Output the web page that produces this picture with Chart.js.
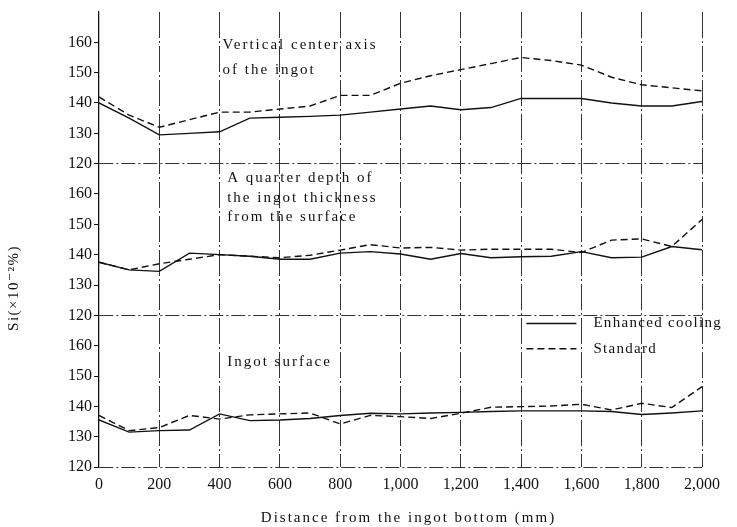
<!DOCTYPE html>
<html>
<head>
<meta charset="utf-8">
<script src="https://cdn.jsdelivr.net/npm/chart.js@4/dist/chart.umd.min.js"></script>
<style>
  html, body { margin: 0; padding: 0; background: #fff; }
</style>
</head>
<body>
<canvas id="chart" width="737" height="527"></canvas>
<script>
// distance from the ingot bottom, mm
const distances = [0, 100, 200, 300, 400, 500, 600, 700, 800, 900, 1000,
  1100, 1200, 1300, 1400, 1500, 1600, 1700, 1800, 1900, 2000];
const yTicks = [120, 130, 140, 150, 160];

// Si (x10^-2 %) — vertical center axis of the ingot
const centerEnhanced = [140, 135, 129.5, 130, 130.5, 135, 135.3, 135.6, 136, 137, 138,
  139, 137.8, 138.5, 141.5, 141.5, 141.5, 140, 139, 139, 140.5];
const centerStandard = [142, 136, 132, 134.5, 137, 137, 138, 139, 142.5, 142.5, 146.5,
  149, 151, 153, 155, 154, 152.5, 148.5, 146, 145, 144];

// a quarter depth of the ingot thickness
const quarterEnhanced = [137.5, 135, 134.5, 140.5, 140, 139.5, 138.5, 138.5, 140.5, 141, 140.2,
  138.5, 140.4, 139, 139.3, 139.5, 141, 139, 139.2, 142.7, 141.6];
const quarterStandard = [137.5, 135, 137, 138.5, 140, 139.5, 139, 139.8, 141.5, 143.3, 142.2,
  142.4, 141.5, 141.8, 141.8, 141.8, 140.7, 144.8, 145.2, 142.7, 151.6];

// ingot surface
const surfaceEnhanced = [135.5, 131.5, 132, 132.2, 137.5, 135.3, 135.5, 136, 137, 137.7, 137.5,
  137.8, 138, 138.3, 138.5, 138.5, 138.5, 138.3, 137.3, 137.8, 138.5];
const surfaceStandard = [137, 132, 133, 137, 135.8, 137.2, 137.5, 137.8, 134.2, 137, 136.6,
  136, 137.7, 139.7, 139.9, 140.1, 140.7, 138.8, 141, 139.6, 146.5];

const panelLabels = [
  { axis: 'yTop', x: 410, y: [159, 151], lines: ['Vertical center axis', 'of the ingot'] },
  { axis: 'yMid', x: 425, y: [165.4, 158.8, 152.5], lines: ['A quarter depth of', 'the ingot thickness', 'from the surface'] },
  { axis: 'yBot', x: 425, y: [154.7], lines: ['Ingot surface'] }
];

const xTitle = 'Distance from the ingot bottom (mm)';
const yTitle = 'Si(×10⁻²%)';

const ink = '#111';
const serif = '"Liberation Serif", "DejaVu Serif", serif';

const toPoints = vals => vals.map((v, i) => ({ x: distances[i], y: v }));

const series = (label, vals, axis, dashed) => ({
  label,
  data: toPoints(vals),
  yAxisID: axis,
  borderColor: ink,
  borderWidth: 1.4,
  borderDash: dashed ? [7, 4] : [],
  pointRadius: 0,
  tension: 0,
  fill: false
});

const panelAxis = () => ({
  type: 'linear',
  position: 'left',
  stack: 'panels',
  stackWeight: 1,
  min: 120,
  max: 170,
  afterBuildTicks: s => { s.ticks = yTicks.map(v => ({ value: v })); },
  afterFit: s => { s.width = 65; },
  ticks: { color: ink, font: { family: serif, size: 16 }, padding: 2, autoSkip: false },
  grid: {
    color: c => (c.tick && c.tick.value === 120 ? '#333' : 'transparent'),
    tickColor: ink,
    tickLength: 5,
    lineWidth: 1
  },
  border: { display: true, color: ink, width: 1.3, dash: [14, 3, 2, 3] }
});

// legend rows drawn inside the bottom panel, next to the 1,600 mm line
const legendAt = { axis: 'yBot', x: 1600, y: [167.3, 159] };

const overlay = {
  id: 'overlay',
  afterDraw(chart) {
    const { ctx, scales, chartArea } = chart;
    const x = scales.x;
    ctx.save();
    ctx.fillStyle = ink;
    ctx.font = '15px ' + serif;
    ctx.letterSpacing = '2px';
    ctx.textBaseline = 'middle';
    ctx.textAlign = 'left';

    panelLabels.forEach(p => {
      p.lines.forEach((t, i) => {
        ctx.fillText(t, x.getPixelForValue(p.x), scales[p.axis].getPixelForValue(p.y[i]));
      });
    });

    // legend
    const lx = x.getPixelForValue(legendAt.x);
    ctx.letterSpacing = '1.3px';
    chart.data.datasets.slice(0, 2).forEach((ds, i) => {
      const ly = scales[legendAt.axis].getPixelForValue(legendAt.y[i]);
      ctx.beginPath();
      ctx.setLineDash(ds.borderDash);
      ctx.lineWidth = 1.4;
      ctx.strokeStyle = ink;
      ctx.moveTo(lx - 55, ly);
      ctx.lineTo(lx - 5, ly);
      ctx.stroke();
      ctx.fillText(ds.label, lx + 12, ly);
    });
    ctx.setLineDash([]);

    // x title
    ctx.textAlign = 'center';
    ctx.letterSpacing = '2px';
    ctx.fillText(xTitle, (chartArea.left + chartArea.right) / 2 + 8, chart.height - 9);

    // y title
    ctx.letterSpacing = '1.5px';
    ctx.font = '15px ' + serif;
    ctx.translate(14, 288);
    ctx.rotate(-Math.PI / 2);
    ctx.fillText(yTitle, 0, 0);
    ctx.restore();
  }
};

new Chart(document.getElementById('chart'), {
  type: 'line',
  data: {
    datasets: [
      series('Enhanced cooling', centerEnhanced, 'yTop', false),
      series('Standard', centerStandard, 'yTop', true),
      series('Enhanced cooling', quarterEnhanced, 'yMid', false),
      series('Standard', quarterStandard, 'yMid', true),
      series('Enhanced cooling', surfaceEnhanced, 'yBot', false),
      series('Standard', surfaceStandard, 'yBot', true)
    ]
  },
  options: {
    responsive: false,
    animation: false,
    layout: { padding: { left: 34, right: 35, top: 12, bottom: 0 } },
    plugins: { legend: { display: false }, tooltip: { enabled: false } },
    scales: {
      x: {
        type: 'linear',
        min: 0,
        max: 2000,
        afterFit: s => { s.height = 60; },
        ticks: {
          stepSize: 200,
          color: ink,
          font: { family: serif, size: 16 },
          padding: 8,
          callback: v => v.toLocaleString('en-US')
        },
        grid: {
          color: c => (c.tick && c.tick.value === 0 ? 'transparent' : '#333'),
          drawTicks: false,
          lineWidth: 1
        },
        border: { display: false, dash: [26, 3, 2, 3] }
      },
      // stacked axes are laid out bottom-up in the order they are listed
      yBot: panelAxis(),
      yMid: panelAxis(),
      yTop: panelAxis()
    }
  },
  plugins: [overlay]
});
</script>
</body>
</html>
